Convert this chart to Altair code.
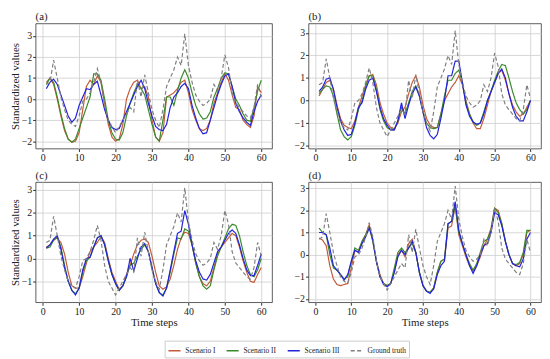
import altair as alt
import pandas as pd

T = list(range(1, 61))
SERIES = ["Scenario I", "Scenario II", "Scenario III", "Ground truth"]
COLORS = ["#c45a3a", "#3a8a2c", "#2222dd", "#7f7f7f"]
DASHES = [[1, 0], [1, 0], [1, 0], [4, 2.5]]
X_TICKS = [0, 10, 20, 30, 40, 50, 60]

GT = [0.7, 0.8, 1.85, 1.0, 0.1, -0.5, -1.0, -1.2, -1.3, -0.8,
      -0.1, 0.0, 0.3, 0.8, 1.45, 0.8, -0.3, -1.0, -1.3, -1.6,
      -1.3, -1.0, -0.7, -0.4, -0.6, 0.9, 0.1, 1.15, 0.3, -0.5,
      -1.0, -1.35, -0.5, 0.6, 1.0, 1.4, 2.0, 1.6, 3.1, 1.6,
      0.8, 0.2, -0.1, -0.3, -0.2, 0.0, 0.7, 0.4, 1.0, 2.1,
      1.5, 0.3, -0.2, -0.4, -0.6, -0.8, -0.9, -0.4, 0.7, 0.1]

A_S1 = [0.8, 1.0, 0.7, 0.0, -0.8, -1.5, -1.9, -2.05, -2.0, -1.6,
        -0.5, 0.6, 0.9, 0.7, 1.1, 0.8, -0.2, -1.2, -1.8, -2.0,
        -1.9, -1.2, 0.0, 0.5, 0.8, 0.9, 0.5, 0.6, 0.1, -1.0,
        -1.8, -2.0, -1.6, 0.1, 0.2, 0.3, 0.5, 0.8, 0.9, 0.3,
        -0.5, -1.0, -1.4, -1.5, -1.4, -1.0, -0.2, 0.3, 0.8, 1.2,
        0.9, 0.2, -0.4, -0.5, -1.0, -1.2, -1.35, -0.8, 0.6, 0.3]
A_S2 = [0.7, 1.0, 0.8, 0.1, -0.7, -1.4, -1.9, -2.05, -1.9, -1.4,
        -0.9, -0.4, 0.1, 1.2, 1.2, 0.9, 0.0, -1.0, -1.6, -1.9,
        -1.95, -1.6, -0.8, -0.2, 0.3, 0.7, 0.5, 0.2, -0.5, -1.2,
        -1.8, -2.0, -1.0, 0.1, 0.1, -0.3, 0.4, 1.0, 1.4, 1.0,
        0.3, -0.3, -0.7, -0.95, -0.9, -0.6, 0.1, 0.5, 1.0, 1.25,
        1.2, 0.6, 0.0, -0.3, -0.7, -1.0, -1.05, -0.4, 0.4, 0.9]
A_S3 = [0.5, 0.8, 0.95, 0.7, 0.2, -0.3, -0.8, -1.1, -0.9, -0.3,
        0.1, 0.5, 0.45, 0.7, 0.85, 0.2, -0.5, -1.0, -1.35, -1.45,
        -1.4, -1.0, -0.6, -0.2, 0.2, 0.6, 0.9, 0.5, -0.2, -0.8,
        -1.3, -1.45, -1.5, -1.2, -0.4, 0.1, 0.3, 0.6, 0.75, 0.5,
        -0.3, -0.9, -1.4, -1.65, -1.6, -1.0, -0.4, 0.2, 0.7, 1.1,
        1.2, 0.6, -0.2, -0.6, -0.9, -1.1, -1.25, -0.6, -0.1, 0.2]

B_S1 = [0.2, 0.5, 0.8, 0.9, 0.5, -0.2, -0.8, -1.1, -1.2, -1.25,
        -0.9, -0.3, 0.2, 0.7, 1.1, 1.15, 0.7, -0.1, -0.6, -1.0,
        -1.2, -1.25, -1.0, -0.5, -0.3, 0.3, 0.8, 1.1, 0.6, -0.2,
        -0.8, -1.1, -1.2, -1.2, -0.6, 0.0, 0.3, 0.6, 0.8, 1.1,
        0.7, 0.0, -0.6, -1.0, -1.25, -1.25, -0.8, -0.2, 0.4, 0.8,
        1.2, 1.35, 0.9, 0.3, -0.2, -0.5, -0.7, -0.6, -0.3, 0.0]
B_S2 = [0.3, 0.5, 0.65, 0.6, 0.2, -0.6, -1.3, -1.6, -1.75, -1.6,
        -1.1, -0.4, 0.0, 0.6, 1.1, 1.1, 0.5, -0.4, -0.9, -1.2,
        -1.3, -1.3, -0.9, -0.3, -0.6, -0.1, 0.4, 0.65, 0.2, -0.5,
        -1.0, -1.2, -1.25, -1.2, -0.6, 0.2, 0.9, 0.9, 1.2, 1.35,
        0.8, -0.1, -0.6, -0.95, -1.1, -1.0, -0.5, 0.0, 0.4, 0.9,
        1.3, 1.6, 1.55, 1.0, 0.4, -0.1, -0.4, -0.6, -0.4, 0.0]
B_S3 = [0.4, 0.6, 0.95, 1.0, 0.5, -0.3, -0.9, -1.3, -1.55, -1.5,
        -1.0, -0.3, -0.1, 0.5, 0.9, 1.0, 0.4, -0.3, -0.8, -1.1,
        -1.3, -1.3, -0.9, -0.1, -0.8, -0.2, 0.3, 0.6, 0.2, -0.5,
        -1.2, -1.55, -1.7, -1.5, -0.8, 0.0, 1.1, 1.1, 1.75, 1.75,
        0.8, -0.2, -0.7, -0.95, -1.05, -1.0, -0.6, 0.0, 0.4, 0.8,
        1.2, 1.4, 1.0, 0.3, -0.3, -0.7, -0.9, -0.9, -0.5, 0.0]

C_S1 = [0.5, 0.6, 0.8, 0.9, 0.7, 0.2, -0.6, -1.2, -1.3, -1.3,
        -0.8, -0.2, 0.3, 0.5, 0.7, 0.95, 0.7, 0.0, -0.6, -1.0,
        -1.35, -1.2, -0.7, -0.3, 0.2, 0.6, 0.8, 0.85, 0.7, 0.1,
        -0.6, -1.2, -1.35, -1.25, -0.9, -0.3, 0.4, 0.9, 1.15, 1.1,
        0.6, -0.2, -0.8, -1.1, -1.2, -1.0, -0.4, 0.2, 0.5, 0.7,
        0.9, 1.1, 1.0, 0.5, -0.1, -0.6, -1.0, -1.05, -0.7, -0.4]
C_S2 = [0.45, 0.5, 0.8, 0.95, 0.5, -0.3, -1.0, -1.4, -1.55, -1.3,
        -0.6, -0.1, 0.05, 0.5, 0.9, 1.0, 0.6, -0.1, -0.7, -1.1,
        -1.4, -1.2, -0.8, -0.3, -0.2, 0.1, 0.4, 0.6, 0.3, -0.4,
        -1.1, -1.5, -1.6, -1.3, -0.6, 0.2, 0.9, 0.85, 1.3, 1.2,
        0.6, -0.2, -0.8, -1.2, -1.35, -1.2, -0.5, 0.1, 0.5, 0.9,
        1.3, 1.5, 1.45, 1.0, 0.3, -0.3, -0.7, -0.8, -0.5, 0.0]
C_S3 = [0.45, 0.6, 0.85, 1.0, 0.4, -0.4, -1.0, -1.4, -1.6, -1.3,
        -0.5, 0.0, 0.05, 0.5, 0.9, 1.0, 0.6, -0.1, -0.7, -1.1,
        -1.4, -1.2, -0.8, 0.0, -0.55, 0.0, 0.5, 0.65, 0.3, -0.4,
        -1.1, -1.5, -1.65, -1.3, -0.5, 0.3, 1.1, 1.2, 2.1, 1.5,
        0.6, -0.1, -0.6, -0.9, -0.95, -0.7, -0.2, 0.3, 0.5, 0.8,
        1.1, 1.25, 1.1, 0.6, 0.0, -0.5, -0.75, -0.75, -0.3, 0.2]

D_S1 = [0.75, 0.65, 0.4, -0.5, -1.1, -1.35, -1.4, -1.35, -1.3, -0.6,
        0.2, 0.1, 0.6, 0.9, 1.35, 0.6, -0.3, -0.9, -1.3, -1.4,
        -1.3, -0.8, 0.0, 0.2, -0.1, 0.5, 0.7, 0.1, -0.8, -1.4,
        -1.65, -1.7, -1.5, -0.8, -0.3, -0.2, 1.2, 1.3, 2.2, 0.9,
        0.4, -0.1, -0.5, -0.75, -0.5, -0.1, 0.4, 0.7, 1.2, 2.1,
        2.0, 1.4, 0.6, 0.0, -0.4, -0.5, -0.4, 0.0, 1.0, 1.1]
D_S2 = [1.2, 1.0, 0.9, 0.0, -0.6, -0.7, -0.9, -1.1, -1.0, -0.3,
        0.3, 0.2, 0.6, 0.9, 1.25, 0.6, -0.3, -1.0, -1.3, -1.4,
        -1.3, -0.6, 0.1, 0.3, 0.1, 0.3, 0.5, 0.1, -0.8, -1.4,
        -1.65, -1.7, -1.5, -0.8, -0.3, -0.2, 1.4, 1.5, 2.2, 1.0,
        0.5, 0.0, -0.4, -0.7, -0.4, 0.1, 0.6, 0.7, 1.1, 2.1,
        1.9, 1.4, 0.6, 0.0, -0.4, -0.45, -0.35, 0.1, 1.1, 1.1]
D_S3 = [1.0, 1.0, 0.9, 0.3, -0.5, -0.7, -0.9, -1.15, -0.9, -0.3,
        0.2, 0.1, 0.5, 0.8, 1.2, 0.7, -0.3, -1.0, -1.35, -1.45,
        -1.3, -0.8, -0.1, 0.2, 0.0, 0.3, 0.6, 0.1, -0.8, -1.4,
        -1.65, -1.75, -1.55, -0.9, -0.5, -0.3, 1.4, 1.5, 2.4, 1.1,
        0.5, 0.0, -0.5, -0.85, -0.5, 0.0, 0.4, 0.5, 1.0, 1.9,
        1.8, 1.3, 0.6, 0.0, -0.4, -0.5, -0.55, -0.2, 0.7, 1.0]

PANELS = {
    "a": [A_S1, A_S2, A_S3, GT],
    "b": [B_S1, B_S2, B_S3, GT],
    "c": [C_S1, C_S2, C_S3, GT],
    "d": [D_S1, D_S2, D_S3, GT],
}

rows = []
for key, lists in PANELS.items():
    for s_i, (name, vals) in enumerate(zip(SERIES, lists)):
        for t, v in zip(T, vals):
            rows.append({"panel": key, "t": t, "series": name, "order": s_i, "value": v})
df = pd.DataFrame(rows)

FONT = "Liberation Serif"


def make_panel(key, ydomain, yticks, ytitle, xtitle, w, h):
    d = df[df.panel == key]
    leg = alt.Legend(title=None, orient="none", direction="horizontal",
                     legendX=131, legendY=322)
    return alt.Chart(d, title=alt.TitleParams(f"({key})", anchor="start", frame="group",
                                               offset=1)).mark_line(
        strokeWidth=1.2, clip=True
    ).encode(
        x=alt.X("t:Q", scale=alt.Scale(domain=[-1.95, 62.95], nice=False, zero=False),
                axis=alt.Axis(values=X_TICKS, title=xtitle)),
        y=alt.Y("value:Q", scale=alt.Scale(domain=ydomain, nice=False, zero=False),
                axis=alt.Axis(values=yticks, title=ytitle)),
        color=alt.Color("series:N", scale=alt.Scale(domain=SERIES, range=COLORS), legend=leg),
        strokeDash=alt.StrokeDash("series:N", scale=alt.Scale(domain=SERIES, range=DASHES),
                                  legend=leg),
        order=alt.Order("t:Q"),
    ).properties(width=w, height=h)


pa = make_panel("a", [-2.35, 3.6], [-2, -1, 0, 1, 2, 3], "Standardized values", None, 240, 127)
pb = make_panel("b", [-2.13, 3.42], [-2, -1, 0, 1, 2, 3], None, None, 236, 127)
pc = make_panel("c", [-1.92, 3.35], [-1, 0, 1, 2, 3], "Standardized values", "Time steps", 240, 122)
pd_ = make_panel("d", [-2.15, 3.28], [-2, -1, 0, 1, 2, 3], None, "Time steps", 236, 122)

chart = alt.vconcat(
    alt.hconcat(pa, pb, spacing=20),
    alt.hconcat(pc, pd_, spacing=20),
    spacing=6,
).properties(
    padding=0
).configure_view(
    stroke="#333333", strokeWidth=0.8
).configure_axis(
    labelFont=FONT, titleFont=FONT, labelFontSize=10, titleFontSize=11,
    titleFontWeight="normal", labelColor="#222222", titleColor="#222222",
    grid=True, gridColor="#cccccc", gridWidth=0.8, domain=False,
    tickColor="#333333", tickSize=3, labelPadding=1, titlePadding=1,
).configure_legend(
    labelFont=FONT, labelFontSize=7.5, labelColor="#222222",
    symbolStrokeWidth=1.3, symbolSize=150, columnPadding=8, symbolType="stroke",
    strokeColor="#cccccc", padding=3, labelOffset=4,
).configure_title(
    font=FONT, fontSize=11, fontWeight="normal", color="#222222", anchor="start",
)

chart.save("out.html", embed_options={"renderer": "svg", "actions": False})
